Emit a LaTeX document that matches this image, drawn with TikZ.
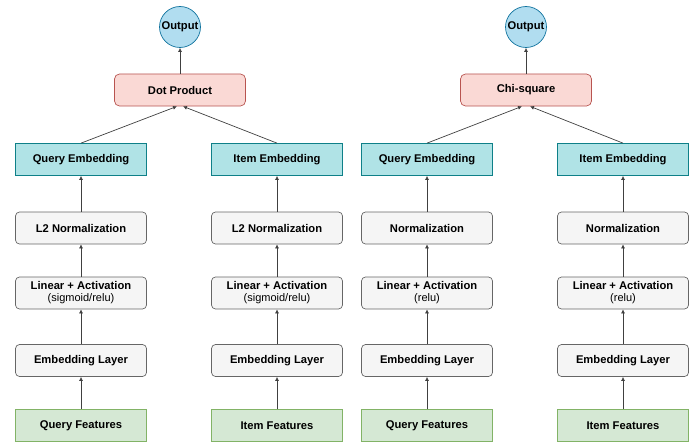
\documentclass[tikz,border=0pt]{standalone}
\usepackage{fontspec}
\setmainfont{Liberation Sans}
\usepackage{xcolor}
\usetikzlibrary{arrows.meta,positioning}

\definecolor{grayfill}{HTML}{F5F5F5}
\definecolor{grayline}{HTML}{666666}
\definecolor{tealfill}{HTML}{B0E3E6}
\definecolor{tealline}{HTML}{0E8088}
\definecolor{greenfill}{HTML}{D5E8D4}
\definecolor{greenline}{HTML}{82B366}
\definecolor{pinkfill}{HTML}{FAD9D5}
\definecolor{pinkline}{HTML}{B85450}
\definecolor{bluefill}{HTML}{B1DDF0}
\definecolor{blueline}{HTML}{10739E}

\begin{document}
\begin{tikzpicture}[
  x=1pt,y=-1pt,
  every node/.style={font=\fontsize{11.2}{13.5}\selectfont\bfseries},
  box/.style={draw,minimum width=131pt,minimum height=32pt,inner sep=2pt,align=center,line width=0.7pt},
  layer/.style={box,rounded corners=4pt,fill=grayfill,draw=grayline},
  emb/.style={box,fill=tealfill,draw=tealline},
  feat/.style={box,fill=greenfill,draw=greenline},
  op/.style={box,rounded corners=5pt,fill=pinkfill,draw=pinkline},
  outnode/.style={circle,draw=blueline,fill=bluefill,minimum size=41pt,inner sep=0pt,line width=0.7pt},
  arr/.style={-{Latex[length=4pt,width=4pt]},draw=black!75,line width=0.7pt}
]
\useasboundingbox (0,0) rectangle (692,441);

% dot product tower
\node[outnode] (o1) at (180,27) {Output};
\node[op] (dp) at (180,90) {Dot Product};
\node[emb] (qe1) at (81,159.5) {Query Embedding};
\node[emb] (ie1) at (277,159.5) {Item Embedding};
\node[layer] (qn1) at (81,228) {L2 Normalization};
\node[layer] (in1) at (277,228) {L2 Normalization};
\node[layer] (ql1) at (81,293) {Linear + Activation\\[-1.5pt]{\mdseries\fontsize{11}{12}\selectfont(sigmoid/relu)}};
\node[layer] (il1) at (277,293) {Linear + Activation\\[-1.5pt]{\mdseries\fontsize{11}{12}\selectfont(sigmoid/relu)}};
\node[layer] (qb1) at (81,360.5) {Embedding Layer};
\node[layer] (ib1) at (277,360.5) {Embedding Layer};
\node[feat] (qf1) at (81,425.5) {Query Features};
\node[feat] (if1) at (277,425.5) {Item Features};

% chi-square tower
\node[outnode] (o2) at (526,27) {Output};
\node[op] (cs) at (526,90) {Chi-square};
\node[emb] (qe2) at (427,159.5) {Query Embedding};
\node[emb] (ie2) at (623,159.5) {Item Embedding};
\node[layer] (qn2) at (427,228) {Normalization};
\node[layer] (in2) at (623,228) {Normalization};
\node[layer] (ql2) at (427,293) {Linear + Activation\\[-1.5pt]{\mdseries\fontsize{11}{12}\selectfont(relu)}};
\node[layer] (il2) at (623,293) {Linear + Activation\\[-1.5pt]{\mdseries\fontsize{11}{12}\selectfont(relu)}};
\node[layer] (qb2) at (427,360.5) {Embedding Layer};
\node[layer] (ib2) at (623,360.5) {Embedding Layer};
\node[feat] (qf2) at (427,425.5) {Query Features};
\node[feat] (if2) at (623,425.5) {Item Features};

\draw[arr] (qf1) -- (qb1);
\draw[arr] (qb1) -- (ql1);
\draw[arr] (ql1) -- (qn1);
\draw[arr] (qn1) -- (qe1);
\draw[arr] (if1) -- (ib1);
\draw[arr] (ib1) -- (il1);
\draw[arr] (il1) -- (in1);
\draw[arr] (in1) -- (ie1);
\draw[arr] (qe1.north) -- ([xshift=-3pt]dp.south);
\draw[arr] (ie1.north) -- ([xshift=3pt]dp.south);
\draw[arr] (dp) -- (o1);

\draw[arr] (qf2) -- (qb2);
\draw[arr] (qb2) -- (ql2);
\draw[arr] (ql2) -- (qn2);
\draw[arr] (qn2) -- (qe2);
\draw[arr] (if2) -- (ib2);
\draw[arr] (ib2) -- (il2);
\draw[arr] (il2) -- (in2);
\draw[arr] (in2) -- (ie2);
\draw[arr] (qe2.north) -- ([xshift=-4pt]cs.south);
\draw[arr] (ie2.north) -- ([xshift=4pt]cs.south);
\draw[arr] (cs) -- (o2);
\end{tikzpicture}
\end{document}
